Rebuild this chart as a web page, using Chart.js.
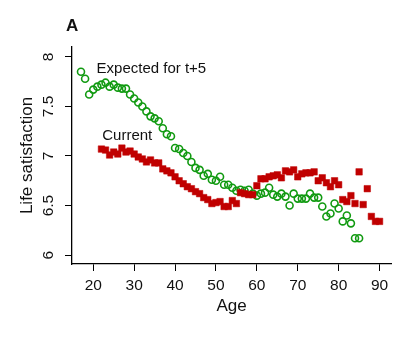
<!DOCTYPE html>
<html>
<head>
<meta charset="utf-8">
<script src="https://cdn.jsdelivr.net/npm/chart.js@4/dist/chart.umd.min.js"></script>
<style>
  html, body { margin: 0; padding: 0; background: #fff; }
  #wrap { width: 399px; height: 341px; }
</style>
</head>
<body>
<div id="wrap"><canvas id="lifeChart" width="399" height="341"></canvas></div>
<script>
// age in years for each series
const expectedAges = [17, 18, 19, 20, 21, 22, 23, 24, 25, 26, 27, 28, 29, 30, 31, 32, 33, 34, 35, 36,
  37, 38, 39, 40, 41, 42, 43, 44, 45, 46, 47, 48, 49, 50, 51, 52, 53, 54, 55, 56,
  57, 58, 59, 60, 61, 62, 63, 64, 65, 66, 67, 68, 69, 70, 71, 72, 73, 74, 75, 76,
  77, 78, 79, 80, 81, 82, 83, 84, 85];
const expectedValues = [7.85, 7.78, 7.62, 7.67, 7.70, 7.72, 7.74, 7.70, 7.72, 7.69, 7.68, 7.68, 7.62, 7.58, 7.54, 7.50, 7.45, 7.40, 7.38, 7.35,
  7.28, 7.22, 7.20, 7.08, 7.07, 7.03, 7.00, 6.94, 6.88, 6.86, 6.80, 6.82, 6.76, 6.75, 6.79, 6.71, 6.71, 6.68, 6.65, 6.66,
  6.65, 6.66, 6.62, 6.60, 6.62, 6.63, 6.68, 6.61, 6.59, 6.62, 6.59, 6.50, 6.62, 6.57, 6.57, 6.57, 6.62, 6.58, 6.58, 6.49,
  6.39, 6.42, 6.52, 6.47, 6.34, 6.40, 6.32, 6.17, 6.17];

const currentAges = [22, 23, 24, 25, 26, 27, 28, 29, 30, 31, 32, 33, 34, 35, 36, 37, 38, 39, 40, 41,
  42, 43, 44, 45, 46, 47, 48, 49, 50, 51, 52, 53, 54, 55, 56, 57, 58, 59, 60, 61,
  62, 63, 64, 65, 66, 67, 68, 69, 70, 71, 72, 73, 74, 75, 76, 77, 78, 79, 80, 81,
  82, 83, 84, 85, 86, 87, 88, 89, 90];
const currentValues = [7.07, 7.06, 7.01, 7.04, 7.02, 7.08, 7.04, 7.05, 7.02, 6.99, 6.97, 6.94, 6.96, 6.93, 6.93, 6.87, 6.85, 6.83, 6.79, 6.75,
  6.72, 6.69, 6.67, 6.64, 6.62, 6.58, 6.56, 6.52, 6.53, 6.54, 6.49, 6.49, 6.55, 6.52, 6.63, 6.62, 6.61, 6.61, 6.70, 6.77,
  6.77, 6.79, 6.80, 6.81, 6.78, 6.85, 6.84, 6.86, 6.79, 6.82, 6.83, 6.83, 6.84, 6.75, 6.78, 6.73, 6.69, 6.75, 6.71, 6.56,
  6.54, 6.60, 6.52, 6.84, 6.51, 6.67, 6.39, 6.34, 6.34];

const xTicks = [20, 30, 40, 50, 60, 70, 80, 90];
const yTicks = [6, 6.5, 7, 7.5, 8];

const FONT = 'Liberation Sans, Arial, sans-serif';
const RED = '#c00000';
const GREEN = '#119a11';

function toPoints(xs, ys) {
  return xs.map((x, i) => ({ x: x, y: ys[i] }));
}

// panel letter and the two series captions
const captions = {
  id: 'captions',
  afterDraw(chart) {
    const ctx = chart.ctx;
    const xs = chart.scales.x;
    const ys = chart.scales.y;
    ctx.save();
    ctx.fillStyle = '#111';
    ctx.textBaseline = 'alphabetic';
    ctx.textAlign = 'left';
    ctx.font = 'bold 17px ' + FONT;
    ctx.fillText('A', chart.chartArea.left - 6, 31);
    ctx.font = '15px ' + FONT;
    ctx.fillText('Expected for t+5', xs.getPixelForValue(20.8), ys.getPixelForValue(7.84));
    ctx.fillText('Current', xs.getPixelForValue(22.2), ys.getPixelForValue(7.16));
    ctx.restore();
  }
};

new Chart(document.getElementById('lifeChart'), {
  type: 'scatter',
  data: {
    datasets: [
      {
        label: 'Current',
        data: toPoints(currentAges, currentValues),
        pointStyle: 'rect',
        pointRadius: 4.6,
        backgroundColor: RED,
        borderColor: RED,
        borderWidth: 0.5,
        order: 0
      },
      {
        label: 'Expected for t+5',
        data: toPoints(expectedAges, expectedValues),
        pointStyle: 'circle',
        pointRadius: 3.5,
        backgroundColor: 'rgba(0,0,0,0)',
        borderColor: GREEN,
        borderWidth: 1.6,
        order: 1
      }
    ]
  },
  options: {
    responsive: false,
    animation: false,
    events: [],
    layout: { padding: { top: 47, right: 8, left: 0, bottom: 0 } },
    plugins: {
      legend: { display: false },
      tooltip: { enabled: false }
    },
    scales: {
      x: {
        type: 'linear',
        min: 14.8,
        max: 92.8,
        afterFit: s => { s.height = 77; },
        afterBuildTicks: s => { s.ticks = xTicks.map(v => ({ value: v })); },
        grid: { drawOnChartArea: false, drawTicks: true, tickLength: 7, color: '#000', lineWidth: 1 },
        border: { display: true, color: '#000', width: 1.3 },
        ticks: { color: '#111', font: { family: FONT, size: 15.5 }, padding: 5, maxRotation: 0 },
        title: { display: true, text: 'Age', color: '#111', font: { family: FONT, size: 17 }, padding: { top: 0, bottom: 24 } }
      },
      y: {
        type: 'linear',
        min: 5.91,
        max: 8.1,
        afterFit: s => { s.width = 72; },
        afterBuildTicks: s => { s.ticks = yTicks.map(v => ({ value: v })); },
        grid: { drawOnChartArea: false, drawTicks: true, tickLength: 7, color: '#000', lineWidth: 1 },
        border: { display: true, color: '#000', width: 1.3 },
        ticks: {
          color: '#111',
          font: { family: FONT, size: 15.5 },
          padding: 6,
          minRotation: 90,
          maxRotation: 90,
          crossAlign: 'center',
          callback: v => String(v)
        },
        title: { display: true, text: 'Life satisfaction', color: '#111', font: { family: FONT, size: 17 }, padding: { top: 17, bottom: 0 } }
      }
    }
  },
  plugins: [captions]
});
</script>
</body>
</html>
